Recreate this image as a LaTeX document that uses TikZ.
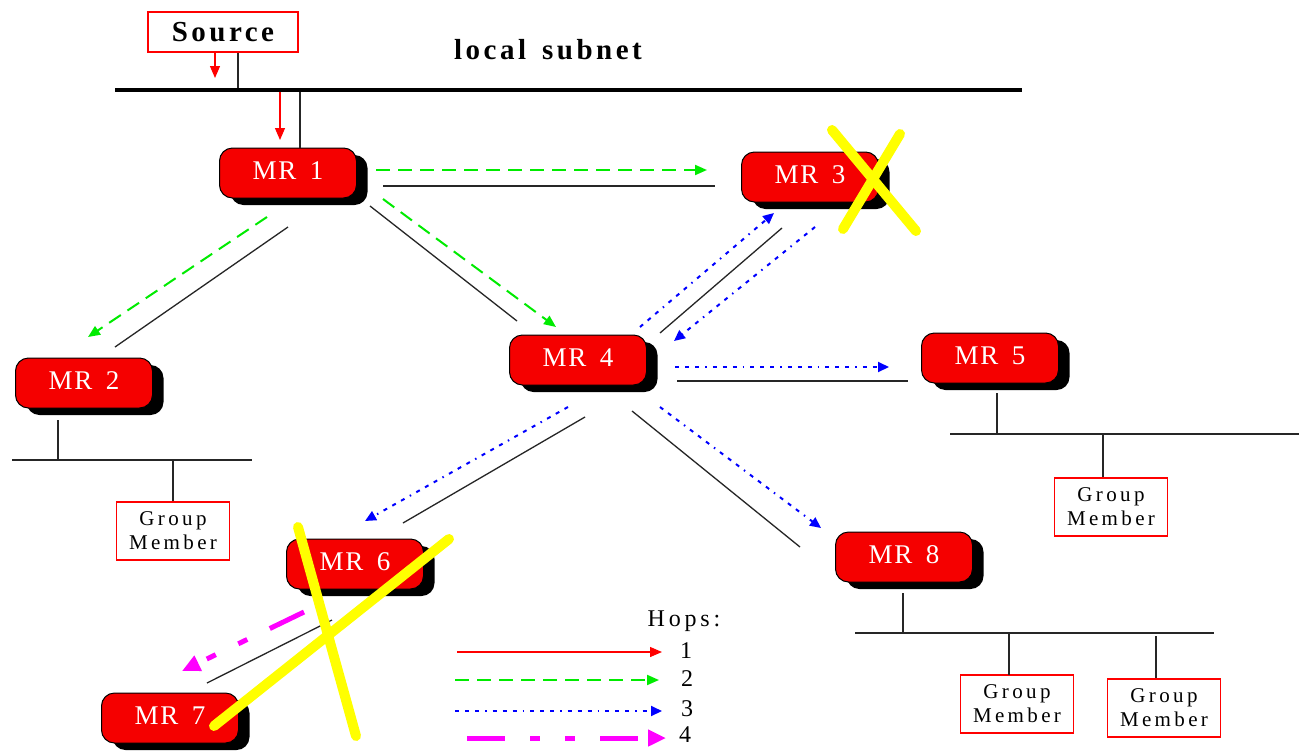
\documentclass[tikz,border=0pt]{standalone}
\usepackage{fontspec}
\setmainfont{Liberation Serif}
\newfontfamily\mrfont{Liberation Serif}[LetterSpace=6,WordSpace=1.6]
\newfontfamily\gmfont{Liberation Serif}[LetterSpace=16]
\newfontfamily\hdfont{Liberation Serif}[LetterSpace=12,WordSpace=1.5]
\usetikzlibrary{arrows.meta,shadows}
\definecolor{hopred}{RGB}{255,0,0}
\definecolor{hopgreen}{RGB}{0,235,0}
\definecolor{hopblue}{RGB}{0,0,255}
\definecolor{hopmag}{RGB}{255,0,255}
\definecolor{crossy}{RGB}{255,255,0}
\definecolor{boxred}{RGB}{245,0,0}
\newcommand{\mrlabel}[1]{\raisebox{5pt}{#1}}
\begin{document}
\begin{tikzpicture}[x=1pt,y=-1pt,
  router/.style={draw=black, line width=1pt, fill=boxred, rounded corners=13pt,
    minimum width=137pt, minimum height=50pt, inner sep=0pt, text=white,
    font=\mrfont\fontsize{27}{27}\selectfont,
    drop shadow={shadow xshift=11pt, shadow yshift=-7pt, opacity=1, fill=black}},
  member/.style={draw=hopred, line width=1.2pt, fill=white, align=center,
    inner sep=0pt, minimum width=113pt, minimum height=58pt,
    font=\gmfont\fontsize{21}{24}\selectfont},
  wire/.style={draw=black!85, line width=1.3pt},
  bus/.style={draw=black!85, line width=1.6pt},
  hopone/.style={draw=hopred, line width=1.3pt, -{Triangle[length=12pt,width=10pt]}},
  hoptwo/.style={draw=hopgreen, line width=2pt, dash pattern=on 14pt off 8pt,
    -{Triangle[length=12pt,width=10pt]}},
  hopthree/.style={draw=hopblue, line width=2pt,
    dash pattern=on 4pt off 6pt on 4pt off 6pt on 4pt off 6pt on 1.5pt off 6pt,
    -{Triangle[length=11pt,width=10pt]}},
  hopfour/.style={draw=hopmag, line width=5pt,
    dash pattern=on 38pt off 25pt on 10pt off 25pt on 10pt off 25pt,
    -{Triangle[length=18pt,width=16pt]}},
  cross/.style={draw=crossy, line width=10pt, line cap=round},
  legtext/.style={font=\gmfont\fontsize{24}{24}\selectfont, inner sep=0pt},
  digit/.style={font=\fontsize{24}{24}\selectfont, inner sep=0pt}
]
\fill[white] (0,0) rectangle (1299,750);
\useasboundingbox (0,0) rectangle (1299,750);

% source and local subnet
\node[draw=hopred, line width=1.2pt, minimum width=150pt, minimum height=40pt,
  inner sep=0pt, font=\hdfont\bfseries\fontsize{29}{29}\selectfont] (src) at (223,32) {Source};
\node[font=\hdfont\bfseries\fontsize{29}{29}\selectfont, inner sep=0pt] (lsn) at (548,50) {local subnet};
\coordinate (lsL) at (115,90);
\coordinate (lsR) at (1022,90);
\draw[line width=4pt] (lsL) -- (lsR);

% routers
\node[router] (mr1) at (288,173) {\mrlabel{MR 1}};
\node[router] (mr2) at (84,383) {\mrlabel{MR 2}};
\node[router] (mr3) at (810,177) {\mrlabel{MR 3}};
\node[router] (mr4) at (578,360) {\mrlabel{MR 4}};
\node[router] (mr5) at (990,358) {\mrlabel{MR 5}};
\node[router] (mr6) at (355,564) {\mrlabel{MR 6}};
\node[router] (mr7) at (170,718) {\mrlabel{MR 7}};
\node[router] (mr8) at (904,557) {\mrlabel{MR 8}};

% group members
\node[member] (gm2) at (173,531) {Group\\Member};
\node[member] (gm5) at (1111,507) {Group\\Member};
\node[member] (gm8a) at (1017,704) {Group\\Member};
\node[member] (gm8b) at (1164,708) {Group\\Member};

% source attachments
\coordinate (srcA) at (215,78);
\coordinate (srcB) at (238,88);
\draw[hopone] (src.south -| srcA) -- (srcA);
\draw[wire] (src.south -| srcB) -- (srcB);
\coordinate (m1a) at (280,92);
\coordinate (m1aEnd) at (280,140);
\coordinate (m1b) at (300,92);
\draw[hopone] (m1a) -- (m1aEnd);
\draw[wire] (m1b) -- (m1b |- mr1.north);

% MR2 subnet
\coordinate (b2L) at (12,460); \coordinate (b2R) at (252,460);
\draw[bus] (b2L) -- (b2R);
\coordinate (s2) at (58,420);
\draw[wire] (s2) -- (s2 |- b2L);
\draw[wire] (gm2.north) -- (gm2.north |- b2L);

% MR5 subnet
\coordinate (b5L) at (950,434); \coordinate (b5R) at (1299,434);
\draw[bus] (b5L) -- (b5R);
\coordinate (s5) at (997,393);
\draw[wire] (s5) -- (s5 |- b5L);
\coordinate (d5) at (1103,477);
\draw[wire] (d5) -- (d5 |- b5L);

% MR8 subnet
\coordinate (b8L) at (855,633); \coordinate (b8R) at (1214,633);
\draw[bus] (b8L) -- (b8R);
\coordinate (s8) at (903,593);
\draw[wire] (s8) -- (s8 |- b8L);
\coordinate (d8a) at (1009,675);
\draw[wire] (d8a) -- (d8a |- b8L);
\coordinate (d8b) at (1156,678);
\draw[wire] (d8b) -- (1156,636);

% links (black) and hops
\coordinate (a13) at (376,170); \coordinate (b13) at (707,170);
\draw[hoptwo] (a13) -- (b13);
\coordinate (w13a) at (383,186); \coordinate (w13b) at (715,186);
\draw[wire] (w13a) -- (w13b);

\coordinate (a12) at (267,217); \coordinate (b12) at (88,337);
\draw[hoptwo] (a12) -- (b12);
\coordinate (w12a) at (288,227); \coordinate (w12b) at (115,347);
\draw[wire] (w12a) -- (w12b);

\coordinate (a14) at (383,199); \coordinate (b14) at (556,327);
\draw[hoptwo] (a14) -- (b14);
\coordinate (w14a) at (370,206); \coordinate (w14b) at (517,321);
\draw[wire] (w14a) -- (w14b);

\coordinate (a43) at (640,327); \coordinate (b43) at (774,213);
\draw[hopthree] (a43) -- (b43);
\coordinate (a34) at (815,227); \coordinate (b34) at (674,341);
\draw[hopthree] (a34) -- (b34);
\coordinate (w34a) at (660,333); \coordinate (w34b) at (782,228);
\draw[wire] (w34a) -- (w34b);

\coordinate (a45) at (675,367); \coordinate (b45) at (889,367);
\draw[hopthree] (a45) -- (b45);
\coordinate (w45a) at (677,381); \coordinate (w45b) at (908,381);
\draw[wire] (w45a) -- (w45b);

\coordinate (a46) at (568,407); \coordinate (b46) at (365,521);
\draw[hopthree] (a46) -- (b46);
\coordinate (w46a) at (585,417); \coordinate (w46b) at (403,523);
\draw[wire] (w46a) -- (w46b);

\coordinate (a48) at (660,407); \coordinate (b48) at (821,528);
\draw[hopthree] (a48) -- (b48);
\coordinate (w48a) at (632,411); \coordinate (w48b) at (800,547);
\draw[wire] (w48a) -- (w48b);

\coordinate (a67) at (304,612); \coordinate (b67) at (182,671);
\draw[hopfour] (a67) -- (b67);
\coordinate (w67a) at (332,620); \coordinate (w67b) at (207,683);
\draw[wire] (w67a) -- (w67b);

% legend
\node[legtext] (hops) at (684,621) {Hops:};
\node[digit] (l1) at (686,651) {1};
\node[digit] (l2) at (687,679) {2};
\node[digit] (l3) at (687,709) {3};
\node[digit] (l4) at (685,735) {4};
\coordinate (k1) at (457,652); \coordinate (k1e) at (662,652);
\coordinate (k2) at (455,680); \coordinate (k2e) at (659,680);
\coordinate (k3) at (455,711); \coordinate (k3e) at (662,711);
\coordinate (k4) at (467,738); \coordinate (k4e) at (666,738);
\draw[hopone] (k1) -- (k1e);
\draw[hoptwo] (k2) -- (k2e);
\draw[hopthree] (k3) -- (k3e);
\draw[hopfour] (k4) -- (k4e);

% failure crosses
\coordinate (x1a) at (832,130); \coordinate (x1b) at (916,231);
\coordinate (x2a) at (900,134); \coordinate (x2b) at (843,229);
\coordinate (x3a) at (298,527); \coordinate (x3b) at (356,736);
\coordinate (x4a) at (449,539); \coordinate (x4b) at (214,726);
\draw[cross] (x1a) -- (x1b);
\draw[cross] (x2a) -- (x2b);
\draw[cross] (x3a) -- (x3b);
\draw[cross] (x4a) -- (x4b);
\end{tikzpicture}
\end{document}
